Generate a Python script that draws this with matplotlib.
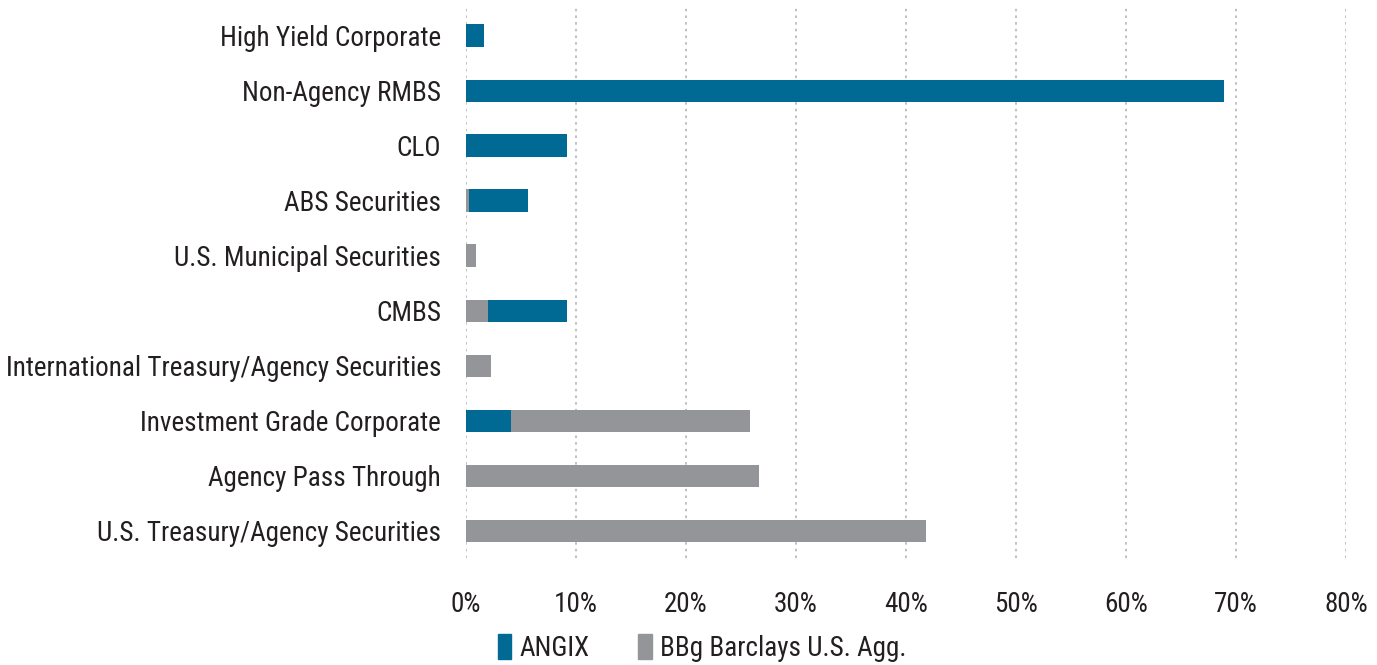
import matplotlib
matplotlib.use("Agg")
import matplotlib.pyplot as plt
from matplotlib import font_manager
from matplotlib.patches import Patch
import numpy as np

categories = ["High Yield Corporate", "Non-Agency RMBS", "CLO", "ABS Securities",
              "U.S. Municipal Securities", "CMBS", "International Treasury/Agency Securities",
              "Investment Grade Corporate", "Agency Pass Through", "U.S. Treasury/Agency Securities"]
angix = [1.6, 68.9, 9.2, 5.6, 0.0, 9.2, 0.0, 4.1, 0.0, 0.0]
agg = [0.0, 0.0, 0.0, 0.3, 0.9, 2.0, 2.3, 25.8, 26.6, 41.8]
xticks = [0, 10, 20, 30, 40, 50, 60, 70, 80]
xticklabels = ["0%", "10%", "20%", "30%", "40%", "50%", "60%", "70%", "80%"]

avail = {f.name for f in font_manager.fontManager.ttflist}
fam = "DejaVu Sans"
for cand in ["Liberation Sans Narrow", "Roboto Condensed", "Open Sans Condensed", "Lato"]:
    if cand in avail:
        fam = cand
        break
plt.rcParams["font.family"] = [fam, "DejaVu Sans"]

BLUE = "#006A94"
GRAY = "#939598"
TXT = "#231f20"

fig = plt.figure(figsize=(13.77, 6.65), dpi=100)
ax = fig.add_axes([466/1377, 1 - 558/665, (1346-466)/1377, (558-8)/665])

# choose font size so the longest label spans about 433 px
r = fig.canvas.get_renderer()
t = fig.text(0, 0, categories[6], fontsize=10)
w10 = t.get_window_extent(r).width
t.remove()
fs = min(19.5, 10 * 433 / w10)

y = np.arange(len(categories))[::-1]
h = 0.4
for yi, a, g in zip(y, angix, agg):
    pairs = [(a, BLUE), (g, GRAY)]
    pairs.sort(key=lambda p: -p[0])
    for z, (v, c) in enumerate(pairs):
        if v > 0:
            ax.barh(yi, v, height=h, color=c, zorder=2 + z)

ax.set_xlim(0, 80)
ax.set_ylim(-0.5, len(categories) - 0.5)
ax.set_yticks(y)
ax.set_yticklabels(categories, fontsize=fs, color=TXT)
ax.set_xticks(xticks)
ax.set_xticklabels(xticklabels, fontsize=fs, color=TXT)
ax.tick_params(length=0)
ax.tick_params(axis="y", pad=18)
ax.tick_params(axis="x", pad=24)
for s in ax.spines.values():
    s.set_visible(False)
ax.xaxis.grid(True, linestyle=(0, (1.5, 2.5)), color="#b5b5b5", linewidth=1.2, zorder=0)
ax.set_axisbelow(True)

handles = [Patch(color=BLUE, label="ANGIX"), Patch(color=GRAY, label="BBg Barclays U.S. Agg.")]
fig.legend(handles=handles, loc="center", bbox_to_anchor=(702/1377, 1 - 648/665), ncol=2,
           frameon=False, fontsize=fs, handlelength=0.5, handleheight=1.0,
           handletextpad=0.3, columnspacing=1.8, labelcolor=TXT)

fig.savefig("out.png", dpi=100)
